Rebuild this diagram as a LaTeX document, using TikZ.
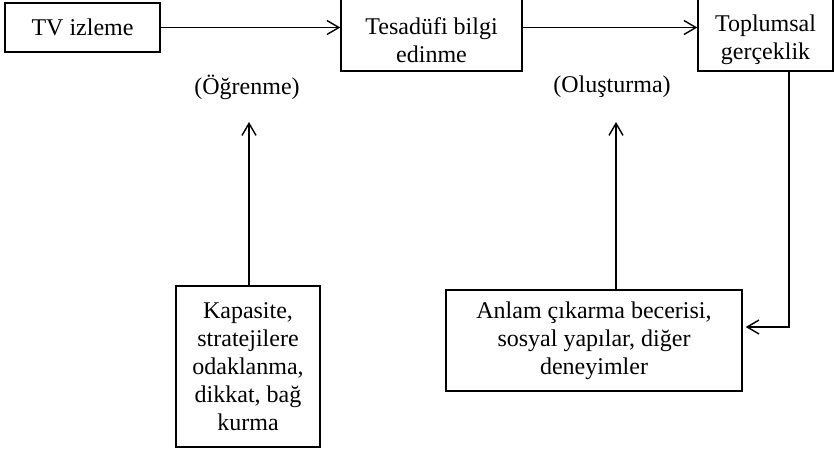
\documentclass[tikz,border=0pt]{standalone}
\usepackage{fontspec}
\setmainfont{Liberation Serif}
\usetikzlibrary{arrows.meta, positioning}
\newcommand{\asagi}[1]{\raisebox{-3.5pt}[\height][\depth]{#1}}

\begin{document}
\begin{tikzpicture}[x=0.5pt, y=-0.5pt, >={Straight Barb[length=6pt, width=7pt]},
    line width=0.7pt, font=\fontsize{12}{14}\selectfont,
    kutu/.style={draw, align=center, inner sep=0pt}]

    % 0. sayfa sinirlari
    \useasboundingbox (0,0) rectangle (834,452);

    % 1. ust siradaki kutular
    \node[kutu, minimum width=77.5pt, minimum height=24.5pt] (tv) at (82.5,27.5) {TV izleme};
    \node[kutu, minimum width=90.5pt, minimum height=38pt] (bilgi) at (431.5,33) {\asagi{Tesadüfi bilgi}\\\asagi{edinme}};
    \node[kutu, minimum width=67.5pt, minimum height=38pt] (gercek) at (765.5,33) {\asagi{Toplumsal}\\\asagi{gerçeklik}};

    % 2. alt kutular
    \node[kutu, minimum width=72pt, minimum height=80.5pt] (kapasite) at (248,366.5)
        {Kapasite,\\stratejilere\\odaklanma,\\dikkat, bağ\\kurma};
    \node[kutu, minimum width=148pt, minimum height=50.5pt] (anlam) at (594,340.5)
        {Anlam çıkarma becerisi,\\sosyal yapılar, diğer\\deneyimler};

    % 3. ara etiketler
    \node (ogrenme) at (247,87) {(Öğrenme)};
    \node (olusturma) at (612,87) {(Oluşturma)};

    % 4. oklar
    \draw[->] (tv) -- (tv -| bilgi.west);
    \draw[->] (bilgi.east |- tv) -- (gercek.west |- tv);
    \coordinate (k-uc) at (249,122);
    \coordinate (a-uc) at (616,122);
    \draw[->] (kapasite.north -| k-uc) -- (k-uc);
    \draw[->] (anlam.north -| a-uc) -- (a-uc);
    \draw[->] (gercek.south -| 789,0) |- ([xshift=1.5pt]anlam.east |- 0,327);

\end{tikzpicture}
\end{document}
